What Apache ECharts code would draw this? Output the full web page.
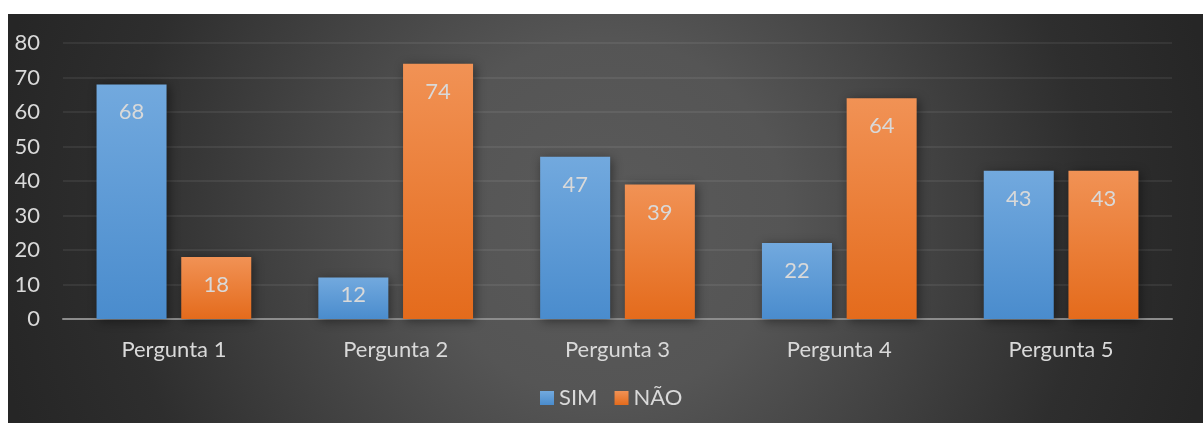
<!DOCTYPE html>
<html><head><meta charset="utf-8">
<script src="https://cdn.jsdelivr.net/npm/echarts@6/dist/echarts.min.js"></script>
<style>
html,body{margin:0;padding:0;background:#fff;width:1203px;height:423px;overflow:hidden;}
#c{position:absolute;left:8px;top:14px;width:1195px;height:409px;
background:radial-gradient(circle 620px at 50% 50%, #5a5a5a 0%, #555555 29%, #2e2e2e 78%, #262626 100%);}
</style></head>
<body><div id="c"></div>
<script>
const categories = ['Pergunta 1','Pergunta 2','Pergunta 3','Pergunta 4','Pergunta 5'];
const simValues = [68, 12, 47, 22, 43];
const naoValues = [18, 74, 39, 64, 43];
const seriesNames = ['SIM','NÃO'];
const yTicks = {min:0, max:80, interval:10};

const FONT = 'Lato, "Noto Sans", sans-serif';
const FS = 22;
const TXT = '#d9d9d9';
function grad(top, bottom){
  return new echarts.graphic.LinearGradient(0,0,0,1,[{offset:0,color:top},{offset:1,color:bottom}]);
}
function mkData(vals){
  return vals.map(v => v < 15 ? {value:v, label:{distance:6}} : v);
}
const chart = echarts.init(document.getElementById('c'), null, {renderer:'canvas'});
const common = {
  type:'bar', barWidth:70, barGap:'21%',
  label:{show:true, position:'insideTop', distance:17, color:TXT, fontSize:FS, fontFamily:FONT},
};
chart.setOption({
  backgroundColor:'transparent',
  animation:false,
  textStyle:{fontFamily:FONT},
  grid:{left:55, right:31, top:29, bottom:104, containLabel:false},
  legend:{
    data:seriesNames, top:368, left:527, padding:5, itemWidth:14, itemHeight:14, itemGap:17,
    icon:'rect', textStyle:{color:TXT, fontSize:FS, fontFamily:FONT}
  },
  xAxis:{
    type:'category', data:categories,
    axisLine:{lineStyle:{color:'#8c8c8c', width:2}},
    axisTick:{show:false},
    axisLabel:{color:TXT, fontSize:FS, fontFamily:FONT, margin:20}
  },
  yAxis:{
    type:'value', min:yTicks.min, max:yTicks.max, interval:yTicks.interval,
    axisLine:{show:false}, axisTick:{show:false},
    axisLabel:{color:TXT, fontSize:FS, fontFamily:FONT, margin:23},
    splitLine:{lineStyle:{color:'rgba(255,255,255,0.09)', width:1.5}}
  },
  series:[
    Object.assign({}, common, {name:seriesNames[0], data:mkData(simValues),
      itemStyle:{color:grad('#72a9de','#4a8ccd'), shadowColor:'rgba(0,0,0,0.45)', shadowBlur:10, shadowOffsetX:2, shadowOffsetY:2}}),
    Object.assign({}, common, {name:seriesNames[1], data:mkData(naoValues),
      itemStyle:{color:grad('#f19255','#e46b1c'), shadowColor:'rgba(0,0,0,0.45)', shadowBlur:10, shadowOffsetX:2, shadowOffsetY:2}})
  ]
});
</script></body></html>
